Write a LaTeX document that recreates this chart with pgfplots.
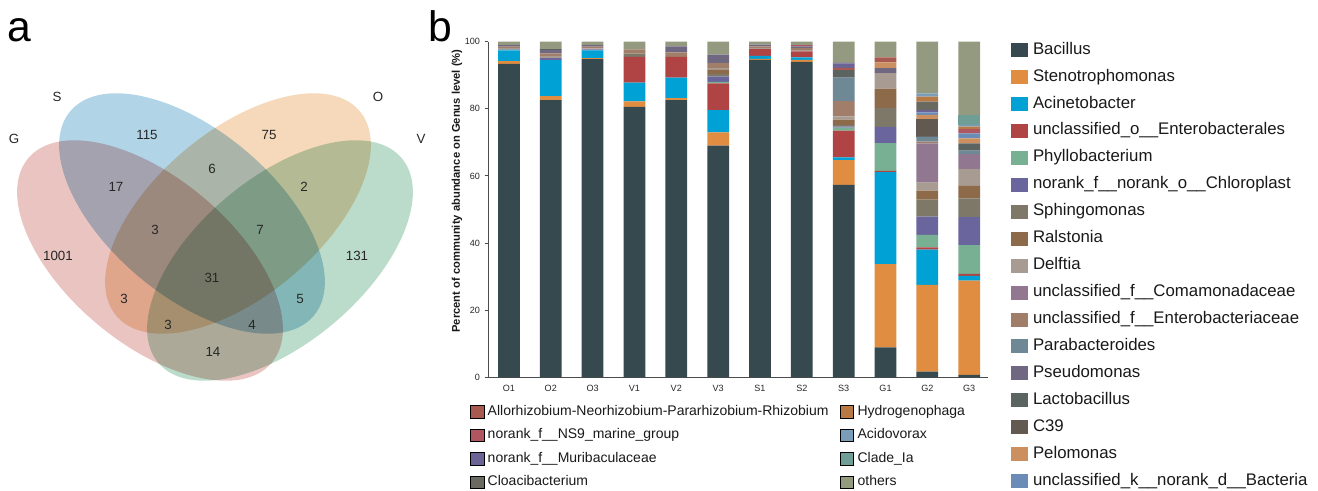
\documentclass[border=0pt]{standalone}
\usepackage{pgfplots}
\pgfplotsset{compat=1.18}
\usepackage{pgfplotstable}
\usepackage{fontspec}
\setmainfont{Liberation Sans}

\definecolor{c1}{HTML}{36494F}
\definecolor{c2}{HTML}{E08D42}
\definecolor{c3}{HTML}{00A2D6}
\definecolor{c4}{HTML}{B04444}
\definecolor{c5}{HTML}{78B094}
\definecolor{c6}{HTML}{6B659E}
\definecolor{c7}{HTML}{7D7868}
\definecolor{c8}{HTML}{8C6A4A}
\definecolor{c9}{HTML}{A89C92}
\definecolor{c10}{HTML}{917890}
\definecolor{c11}{HTML}{A07E6A}
\definecolor{c12}{HTML}{6E8896}
\definecolor{c13}{HTML}{706880}
\definecolor{c14}{HTML}{5C6462}
\definecolor{c15}{HTML}{625A50}
\definecolor{c16}{HTML}{CC8F60}
\definecolor{c17}{HTML}{6A8CB6}
\definecolor{c18}{HTML}{A85A50}
\definecolor{c19}{HTML}{B05660}
\definecolor{c20}{HTML}{6C6494}
\definecolor{c21}{HTML}{6A6A60}
\definecolor{c22}{HTML}{B87A44}
\definecolor{c23}{HTML}{7A9EB8}
\definecolor{c24}{HTML}{6E9E96}
\definecolor{c25}{HTML}{949A80}

\definecolor{vG}{HTML}{EAC4C1}
\definecolor{vS}{HTML}{B2D4E7}
\definecolor{vO}{HTML}{F5D9BA}
\definecolor{vV}{HTML}{BCDCCB}

% columns: Bacillus Steno Acineto Enterobacterales Phyllo Chloroplast Sphingo Ralstonia Delftia Comamonad Enterobacteriaceae Parabact Pseudomonas Lactobac C39 Pelomonas unclK Allorhiz NS9 Muribac Cloacibac Hydrogeno Acidovorax CladeIa others
\pgfplotstableread{
x s1 s2 s3 s4 s5 s6 s7 s8 s9 s10 s11 s12 s13 s14 s15 s16 s17 s18 s19 s20 s21 s22 s23 s24 s25
0 93.4 0.8 3.2 0 0.2 0.2 0 0 0.3 0 0.4 0 0.5 0 0 0 0 0 0 0 0 0 0 0 1.0
1 82.6 1.2 10.7 0 0 0.6 0 0 0.6 0 0.8 0 1.0 0.3 0 0 0 0 0 0 0 0 0 0 2.2
2 94.8 0.3 2.3 0 0 0.3 0 0 0.3 0 0.5 0 0.5 0 0 0 0 0 0 0 0 0 0 0 1.0
3 80.6 1.6 5.6 7.7 0 0 0.9 0 0 0 1.3 0 0 0 0 0 0 0 0 0 0 0 0 0 2.3
4 82.6 0.6 6.1 6.2 0 0 0 0 0 0 1.3 0 1.8 0 0 0 0 0 0 0 0 0 0 0 1.4
5 69.0 4.0 6.6 8.0 0.4 1.6 0.8 1.2 0.5 0 1.5 0 2.5 0 0 0 0 0 0 0 0 0 0 0 3.9
6 94.6 0.3 0.9 2.0 0 0 0 0 0.3 0 0.5 0 0.5 0 0 0 0 0 0 0 0 0 0 0 0.9
7 94.0 0.6 0.7 1.8 0 0 0 0 0.4 0 0.6 0 0.5 0 0 0 0 0 0.4 0 0 0 0 0 1.0
8 57.3 7.4 0.8 8.0 0.9 0.3 0.5 1.6 0.9 0 4.6 7.0 0 2.2 0 0 0 0.7 0 1.3 0.3 0 0 0 6.2
9 8.9 24.8 27.4 0.4 8.3 4.8 5.7 5.7 4.6 0 0 0 1.5 0 0 1.7 0 1.5 0 0 0 0 0 0 4.7
10 1.7 25.8 10.5 0.7 3.7 5.5 5.0 2.7 2.4 11.7 0.5 1.5 0 0 5.2 1.3 0.7 0 0 0.7 2.5 1.5 1.0 0 15.4
11 0.7 28.1 1.4 0.6 8.6 8.3 5.6 3.7 5.0 4.5 0 1.0 0 2.2 0 1.5 1.5 0 1.2 0 0 0.8 0.5 3.0 21.8
}\data

\begin{document}
\begin{tikzpicture}
% ---------------- Venn diagram (panel a) ----------------
\begin{axis}[at={(0pt,0pt)},anchor=south west,scale only axis,
  width=330pt,height=368.25pt,xmin=0,xmax=440,ymin=0,ymax=491,
  y dir=reverse,hide axis,clip=false]
\fill[vG,blend mode=multiply] (axis cs:150,260.5) circle [x radius=119.25pt,y radius=61.95pt,rotate=-40];
\fill[vS,blend mode=multiply] (axis cs:192,213.5) circle [x radius=119.25pt,y radius=61.95pt,rotate=-40];
\fill[vO,blend mode=multiply] (axis cs:238,213.5) circle [x radius=119.25pt,y radius=61.95pt,rotate=40];
\fill[vV,blend mode=multiply] (axis cs:280,260.5) circle [x radius=119.25pt,y radius=61.95pt,rotate=40];
\begin{scope}[every node/.style={font=\fontsize{10}{12}\selectfont,text=black!85}]
\node at (axis cs:57,97) {S};
\node at (axis cs:14,139) {G};
\node at (axis cs:378,97) {O};
\node at (axis cs:421,139) {V};
\node at (axis cs:147,135) {115};
\node at (axis cs:269,135) {75};
\node at (axis cs:116,187) {17};
\node at (axis cs:212,169) {6};
\node at (axis cs:304,187) {2};
\node at (axis cs:155,230) {3};
\node at (axis cs:260,230) {7};
\node at (axis cs:58,256) {1001};
\node at (axis cs:357,256) {131};
\node at (axis cs:212,278) {31};
\node at (axis cs:124,299) {3};
\node at (axis cs:300,299) {5};
\node at (axis cs:168,325) {3};
\node at (axis cs:252,325) {4};
\node at (axis cs:213,352) {14};
\end{scope}
\end{axis}

\node[anchor=base west,font=\fontsize{32}{36}\selectfont,inner sep=0pt] at (5.25pt,336.75pt) {a};
\node[anchor=base west,font=\fontsize{32}{36}\selectfont,inner sep=0pt] at (321pt,336.75pt) {b};

% ---------------- Stacked bars (panel b) ----------------
\begin{axis}[at={(366pt,85.3pt)},anchor=south west,scale only axis,
  width=375pt,height=251.7pt,
  ybar stacked,bar width=0.52,
  xmin=-0.5,xmax=11.45,ymin=0,ymax=100,
  xtick={0,...,11},xticklabels={O1,O2,O3,V1,V2,V3,S1,S2,S3,G1,G2,G3},
  ytick={0,20,...,100},
  axis x line*=bottom,axis y line*=left,
  axis line style={-,color=black!70,line width=0.6pt},
  x tick style={draw=none},y tick style={color=black!70,line width=0.6pt},
  tick align=outside,major tick length=2.5pt,
  tick label style={font=\fontsize{6.8}{8}\selectfont,text=black!85},
  /pgf/number format/assume math mode=true,
  ylabel={Percent of community abundance on Genus level (\%)},
  ylabel style={at={(rel axis cs:-0.062,0.555)},anchor=center,
    font=\fontsize{8.4}{10}\selectfont\bfseries,text=black!90},
  legend cell align=left,
  legend style={at={(rel axis cs:1.046,1.004)},anchor=north west,draw=none,fill=none,
    font=\fontsize{12.6}{14}\selectfont,row sep=5.8pt,inner sep=0pt,
    nodes={inner sep=1.2pt,text height=9pt,text depth=3pt,text=black!90},
    /tikz/every odd column/.append style={column sep=2.6pt}},
  legend image code/.code={\fill[#1] (0pt,-5.25pt) rectangle (12.5pt,5.25pt);},
  legend entries={Bacillus,Stenotrophomonas,Acinetobacter,unclassified\_o\_\_Enterobacterales,
    Phyllobacterium,norank\_f\_\_norank\_o\_\_Chloroplast,Sphingomonas,Ralstonia,Delftia,
    unclassified\_f\_\_Comamonadaceae,unclassified\_f\_\_Enterobacteriaceae,Parabacteroides,
    Pseudomonas,Lactobacillus,C39,Pelomonas,unclassified\_k\_\_norank\_d\_\_Bacteria},
]
\addplot[fill=c1,draw=none] table[x=x,y=s1]{\data};
\addplot[fill=c2,draw=none] table[x=x,y=s2]{\data};
\addplot[fill=c3,draw=none] table[x=x,y=s3]{\data};
\addplot[fill=c4,draw=none] table[x=x,y=s4]{\data};
\addplot[fill=c5,draw=none] table[x=x,y=s5]{\data};
\addplot[fill=c6,draw=none] table[x=x,y=s6]{\data};
\addplot[fill=c7,draw=none] table[x=x,y=s7]{\data};
\addplot[fill=c8,draw=none] table[x=x,y=s8]{\data};
\addplot[fill=c9,draw=none] table[x=x,y=s9]{\data};
\addplot[fill=c10,draw=none] table[x=x,y=s10]{\data};
\addplot[fill=c11,draw=none] table[x=x,y=s11]{\data};
\addplot[fill=c12,draw=none] table[x=x,y=s12]{\data};
\addplot[fill=c13,draw=none] table[x=x,y=s13]{\data};
\addplot[fill=c14,draw=none] table[x=x,y=s14]{\data};
\addplot[fill=c15,draw=none] table[x=x,y=s15]{\data};
\addplot[fill=c16,draw=none] table[x=x,y=s16]{\data};
\addplot[fill=c17,draw=none] table[x=x,y=s17]{\data};
\addplot[fill=c18,draw=none,forget plot] table[x=x,y=s18]{\data};
\addplot[fill=c19,draw=none,forget plot] table[x=x,y=s19]{\data};
\addplot[fill=c20,draw=none,forget plot] table[x=x,y=s20]{\data};
\addplot[fill=c21,draw=none,forget plot] table[x=x,y=s21]{\data};
\addplot[fill=c22,draw=none,forget plot] table[x=x,y=s22]{\data};
\addplot[fill=c23,draw=none,forget plot] table[x=x,y=s23]{\data};
\addplot[fill=c24,draw=none,forget plot] table[x=x,y=s24]{\data};
\addplot[fill=c25,draw=none,forget plot] table[x=x,y=s25]{\data};
\end{axis}

% second legend (bottom)
\begin{axis}[at={(366pt,85.3pt)},anchor=south west,scale only axis,
  width=375pt,height=251.7pt,hide axis,xmin=0,xmax=1,ymin=0,ymax=1,
  legend columns=2,legend cell align=left,
  legend style={at={(rel axis cs:-0.036,-0.077)},anchor=north west,draw=none,fill=none,
    font=\fontsize{10.5}{12}\selectfont,row sep=5.25pt,inner sep=0pt,
    nodes={inner sep=1.2pt,text height=7.6pt,text depth=2.4pt,text=black!90},
    /tikz/every odd column/.append style={column sep=1.5pt},
    /tikz/every even column/.append style={column sep=7.5pt}},
  legend image code/.code={\fill[#1] (0pt,-4.75pt) rectangle (10pt,4.75pt);},
]
\addlegendimage{fill=c18}\addlegendentry{Allorhizobium-Neorhizobium-Pararhizobium-Rhizobium}
\addlegendimage{fill=c22}\addlegendentry{Hydrogenophaga}
\addlegendimage{fill=c19}\addlegendentry{norank\_f\_\_NS9\_marine\_group}
\addlegendimage{fill=c23}\addlegendentry{Acidovorax}
\addlegendimage{fill=c20}\addlegendentry{norank\_f\_\_Muribaculaceae}
\addlegendimage{fill=c24}\addlegendentry{Clade\_Ia}
\addlegendimage{fill=c21}\addlegendentry{Cloacibacterium}
\addlegendimage{fill=c25}\addlegendentry{others}
\end{axis}

\pgfresetboundingbox
\path (0pt,0pt) rectangle (988.5pt,368.25pt);
\end{tikzpicture}
\end{document}
